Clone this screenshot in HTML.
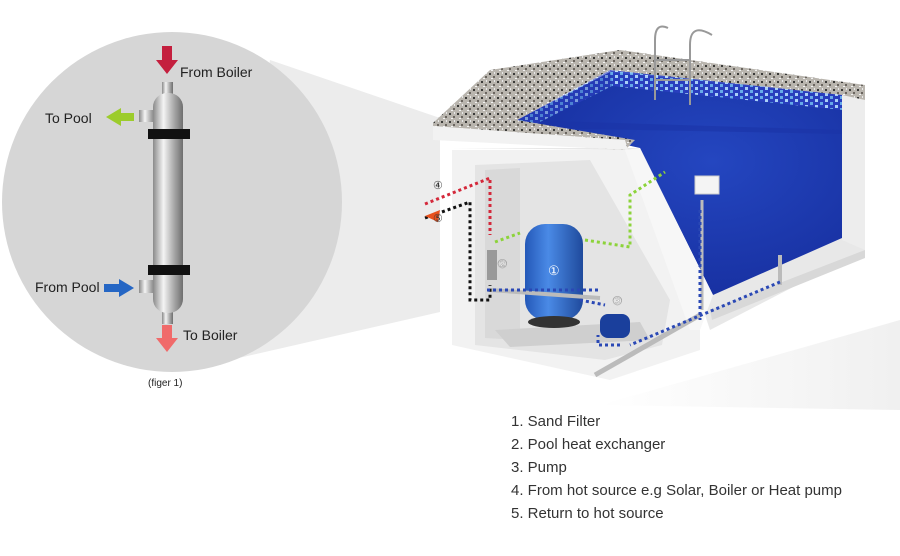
<!DOCTYPE html>
<html><head><meta charset="utf-8"><style>
html,body{margin:0;padding:0;background:#fff;}
svg{display:block;font-family:"Liberation Sans",Arial,sans-serif;}
</style></head><body>
<svg width="900" height="556" viewBox="0 0 900 556" xmlns="http://www.w3.org/2000/svg">
<defs>
<linearGradient id="tube" x1="0" x2="1" y1="0" y2="0">
<stop offset="0" stop-color="#8a8a8a"/><stop offset="0.35" stop-color="#f4f4f4"/><stop offset="0.7" stop-color="#a8a8a8"/><stop offset="1" stop-color="#6e6e6e"/></linearGradient>
<linearGradient id="tank" x1="0" x2="1"><stop offset="0" stop-color="#2458b8"/><stop offset="0.4" stop-color="#4a8ae6"/><stop offset="1" stop-color="#1f4a9c"/></linearGradient>
<radialGradient id="water" cx="0.6" cy="0.4" r="0.8"><stop offset="0" stop-color="#2446c0"/><stop offset="1" stop-color="#142a98"/></radialGradient>
<linearGradient id="floor" x1="0" x2="1" y1="0" y2="0"><stop offset="0" stop-color="#fff"/><stop offset="1" stop-color="#f0f0f0"/></linearGradient>
<pattern id="gran" width="8" height="8" patternUnits="userSpaceOnUse"><rect width="8" height="8" fill="#b9b5ae"/><rect x="1" y="1" width="2" height="2" fill="#3a3a38"/><rect x="5" y="4" width="2" height="2" fill="#6a655f"/><rect x="3" y="6" width="2" height="1" fill="#f2f2f2"/><rect x="6" y="0" width="1" height="2" fill="#e8e8e8"/></pattern>
<pattern id="tile" width="10" height="6" patternUnits="userSpaceOnUse"><rect width="10" height="6" fill="#2a3fc0"/><rect x="0" y="0" width="3" height="3" fill="#6fb6f0"/><rect x="5" y="3" width="3" height="3" fill="#b8e0ff"/></pattern>
</defs>
<!-- floor shade -->
<polygon points="600,405 900,320 900,410" fill="url(#floor)"/>
<!-- cone -->
<polygon points="270,60 440,118 440,312 230,360" fill="#ececec"/>
<!-- circle -->
<circle cx="172" cy="202" r="170" fill="#d6d6d6"/>
<!-- tube -->
<rect x="162" y="82" width="11" height="14" fill="url(#tube)"/>
<rect x="162" y="310" width="11" height="14" fill="url(#tube)"/>
<rect x="139" y="110" width="17" height="12" fill="url(#tube)"/>
<rect x="139" y="280" width="17" height="13" fill="url(#tube)"/>
<rect x="153" y="93" width="30" height="220" rx="14" fill="url(#tube)"/>
<rect x="148" y="129" width="42" height="10" fill="#111"/>
<rect x="148" y="265" width="42" height="10" fill="#111"/>
<!-- arrows -->
<polygon points="162,46 172,46 172,60 178,60 167,74 156,60 162,60" fill="#c41f3e"/>
<polygon points="162,325 172,325 172,338 178,338 167,352 156,338 162,338" fill="#f06a6a"/>
<polygon points="134,113 134,121 121,121 121,126 106,117 121,108 121,113" fill="#9ccc2c"/>
<polygon points="104,284 104,292 119,292 119,297 134,288 119,279 119,284" fill="#2566c4"/>
<text x="180" y="77" font-size="14" fill="#222">From Boiler</text>
<text x="45" y="123" font-size="14" fill="#222">To Pool</text>
<text x="35" y="292" font-size="14" fill="#222">From Pool</text>
<text x="183" y="340" font-size="14" fill="#222">To Boiler</text>
<text x="148" y="386" font-size="10" fill="#222">(figer 1)</text>
<!-- pool outer box -->
<polygon points="452,148 625,150 700,300 710,330 865,250 865,100 842,95 842,238 713,295 640,148" fill="#e8e8e8"/>
<polygon points="842,95 865,100 865,250 842,240" fill="#ededed"/>
<polygon points="710,310 865,250 865,258 712,320" fill="#d8d8d8"/>
<!-- water -->
<polygon points="517,120 610,72 842,95 842,238 713,295 640,148" fill="url(#water)"/>
<polygon points="517,120 842,130 842,134 540,128" fill="#1a34a6" opacity="0.6"/>
<polygon points="610,70 842,94 842,110 612,86" fill="url(#tile)" opacity="0.9"/>
<polygon points="517,120 610,70 612,86 528,128" fill="url(#tile)" opacity="0.6"/>
<!-- deck -->
<polygon points="433,123 490,70 620,50 865,85 865,100 842,95 610,70 517,120 635,140 625,150 433,138" fill="url(#gran)"/>
<polygon points="433,126 625,140 628,150 433,140" fill="#f2f2f2"/>
<!-- ladder -->
<path d="M655,100 V40 Q655,22 668,28 M690,105 V45 Q690,22 712,35 M655,60 H690 M655,80 H690" stroke="#999" stroke-width="2" fill="none"/>
<!-- machine room -->
<polygon points="452,150 625,150 700,300 700,350 610,380 452,345" fill="#f2f2f2"/>
<polygon points="475,165 590,160 670,300 662,345 605,360 475,345" fill="#e4e4e4"/>
<polygon points="485,170 520,168 520,340 485,338" fill="#d9d9d9"/>
<polygon points="495,330 640,322 650,340 510,347" fill="#cfcfcf"/>
<polygon points="625,150 640,148 713,295 700,330 690,330" fill="#f7f7f7"/>
<!-- pipes base -->
<line x1="700" y1="315" x2="595" y2="375" stroke="#bbb" stroke-width="5"/>
<line x1="780" y1="255" x2="780" y2="285" stroke="#bbb" stroke-width="4"/>
<line x1="702" y1="200" x2="702" y2="310" stroke="#bbb" stroke-width="3"/>
<rect x="695" y="176" width="24" height="18" fill="#f4f4f4" stroke="#ccc"/>
<!-- filter tank -->
<rect x="525" y="224" width="58" height="96" rx="20" fill="url(#tank)"/>
<ellipse cx="554" cy="322" rx="26" ry="6" fill="#333"/>
<text x="548" y="275" font-size="13" fill="#fff">①</text>
<line x1="490" y1="290" x2="600" y2="298" stroke="#bbb" stroke-width="4"/>
<!-- pump -->
<rect x="600" y="314" width="30" height="24" rx="8" fill="#1a3f9c"/>
<text x="612" y="305" font-size="12" fill="#fff" stroke="#888" stroke-width="0.3">③</text>
<text x="497" y="268" font-size="12" fill="#fff" stroke="#888" stroke-width="0.3">②</text>
<rect x="487" y="250" width="10" height="30" fill="#999"/>
<!-- dotted flows -->
<g fill="none" stroke-width="3" stroke-dasharray="3,3">
<path d="M425,204 L490,178 V235" stroke="#d4283a"/>
<path d="M425,218 L470,202 V300 H490 V285" stroke="#111"/>
<path d="M495,242 L520,233 M585,240 L630,247 V195 L665,172" stroke="#8cd33a"/>
<path d="M487,290 H600 M580,300 L605,305 M700,210 V320 M780,282 L630,345 M620,345 H598 V335" stroke="#2a48b5"/>
</g>
<polygon points="425,216 440,210 438,222" fill="#e8501c"/>
<text x="433" y="189" font-size="11" fill="#333">④</text>
<text x="433" y="222" font-size="11" fill="#333">⑤</text>
<!-- list -->
<g font-size="15" fill="#333">
<text x="511" y="426">1. Sand Filter</text>
<text x="511" y="449">2. Pool heat exchanger</text>
<text x="511" y="472">3. Pump</text>
<text x="511" y="495">4. From hot source e.g Solar, Boiler or Heat pump</text>
<text x="511" y="518">5. Return to hot source</text>
</g>
</svg>
</body></html>
